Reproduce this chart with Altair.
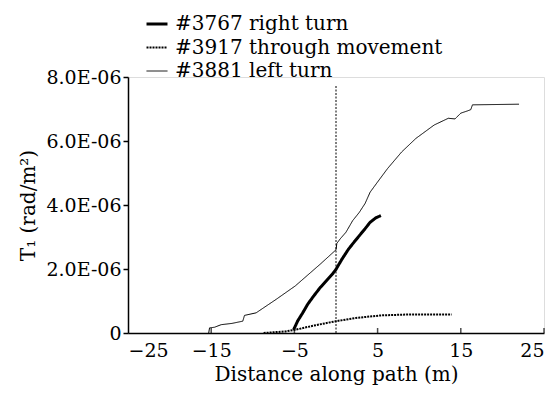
import altair as alt
import pandas as pd

FONT = "DejaVu Serif"

series_names = ["#3767 right turn", "#3917 through movement", "#3881 left turn"]

right_x = [-5.1, -4.6, -4.0, -3.4, -2.7, -1.9, -1.0, -0.4, 0.0, 0.7, 1.5, 2.2, 2.8, 3.5, 4.1, 4.8, 5.4]
right_y = [0.10e-6, 0.38e-6, 0.63e-6, 0.90e-6, 1.15e-6, 1.42e-6, 1.68e-6, 1.85e-6, 1.99e-6, 2.30e-6, 2.62e-6, 2.85e-6, 3.04e-6, 3.26e-6, 3.46e-6, 3.60e-6, 3.67e-6]

thru_x = [-8.7, -6.1, -4.9, -2.7, 0.0, 2.4, 5.4, 8.8, 13.9]
thru_y = [0.0, 0.05e-6, 0.10e-6, 0.23e-6, 0.37e-6, 0.47e-6, 0.55e-6, 0.58e-6, 0.58e-6]

left_x = [-15.3, -15.2, -14.6, -13.8, -12.5, -11.2, -11.0, -9.6, -7.2, -4.9, -1.9, 0.0, 0.1, 0.5, 1.2, 2.0, 2.8, 3.5, 4.1, 5.0, 6.2, 7.9, 9.6, 11.8, 13.5, 14.3, 15.0, 15.8, 16.2, 16.4, 22.0]
left_y = [0.0, 0.16e-6, 0.18e-6, 0.26e-6, 0.30e-6, 0.37e-6, 0.55e-6, 0.63e-6, 1.05e-6, 1.47e-6, 2.15e-6, 2.60e-6, 2.80e-6, 2.94e-6, 3.15e-6, 3.51e-6, 3.77e-6, 4.05e-6, 4.40e-6, 4.72e-6, 5.14e-6, 5.66e-6, 6.08e-6, 6.50e-6, 6.71e-6, 6.69e-6, 6.87e-6, 6.94e-6, 6.98e-6, 7.13e-6, 7.15e-6]

vline_x = [0.0]
vline_y_top = [7.75e-6]

x_ticks = [-25, -15, -5, 5, 15, 25]
y_ticks = [0, 2e-6, 4e-6, 6e-6, 8e-6]

rows = []
for name, xs, ys in [(series_names[0], right_x, right_y),
                     (series_names[1], thru_x, thru_y),
                     (series_names[2], left_x, left_y)]:
    for i, (a, b) in enumerate(zip(xs, ys)):
        rows.append({"series": name, "x": a, "y": b, "order": i})
df = pd.DataFrame(rows)

xscale = alt.Scale(domain=[-25, 25], nice=False, zero=False)
yscale = alt.Scale(domain=[0, 8e-6], nice=False)

legend_kw = dict(title=None, orient="none", legendX=17, legendY=-65,
                 symbolType="stroke", symbolSize=440, labelFont=FONT,
                 labelFontSize=20, labelColor="black", rowPadding=2, labelLimit=0,
                 symbolStrokeColor="black", labelOffset=6)

lines = alt.Chart(df).mark_line(color="black", strokeCap="butt").encode(
    x=alt.X("x:Q", scale=xscale,
            axis=alt.Axis(values=x_ticks, title="Distance along path (m)", ticks=False,
                          labelFontSize=19, titleFontSize=20, labelFont=FONT, titleFont=FONT,
                          labelPadding=8, titlePadding=4, domainColor="black", domainWidth=1.5,
                          labelColor="black", titleColor="black", grid=False, titleFontWeight="normal")),
    y=alt.Y("y:Q", scale=yscale,
            axis=alt.Axis(values=y_ticks, title="T\u2081 (rad/m\u00b2)",
                          labelExpr="datum.value == 0 ? '0' : format(datum.value * 1e6, '.1f') + 'E-06'",
                          tickSize=5, tickColor="black", tickWidth=1.5,
                          labelFontSize=19, titleFontSize=20, labelFont=FONT, titleFont=FONT,
                          labelPadding=2, titlePadding=7, domainColor="black", domainWidth=1.5,
                          labelColor="black", titleColor="black", grid=False, titleFontWeight="normal")),
    strokeDash=alt.StrokeDash("series:N",
                              scale=alt.Scale(domain=series_names, range=[[1, 0], [2, 1], [1, 0]]),
                              legend=alt.Legend(**legend_kw)),
    strokeWidth=alt.StrokeWidth("series:N",
                                scale=alt.Scale(domain=series_names, range=[3, 1, 1]),
                                legend=alt.Legend(**legend_kw)),
    order="order:Q",
)

vdf = pd.DataFrame({"x": vline_x, "y0": [0.0], "y1": vline_y_top})
vline = alt.Chart(vdf).mark_rule(color="black", strokeDash=[2, 1.5], strokeWidth=1).encode(
    x="x:Q", y="y0:Q", y2="y1:Q")

tdf = pd.DataFrame({"x": x_ticks[1:], "y": [0.0] * (len(x_ticks) - 1)})
xt = alt.Chart(tdf).mark_tick(color="black", orient="vertical", size=5, thickness=1.5, yOffset=-2.5).encode(
    x="x:Q", y="y:Q")

chart = alt.layer(lines, vline, xt).properties(
    width=416, height=256,
    autosize=alt.AutoSizeParams(type="none"),
    padding={"left": 120, "top": 69, "right": 5, "bottom": 60},
).configure_view(stroke=None).configure(background="white")

chart.save("out.html", embed_options={"renderer": "svg", "actions": False})
